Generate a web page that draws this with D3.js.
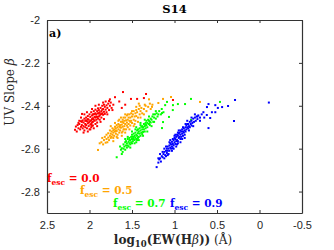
<!DOCTYPE html>
<html>
<head>
<meta charset="utf-8">
<script src="https://cdn.jsdelivr.net/npm/d3@7"></script>
<style>
  body { margin: 0; background: #fff; }
  svg { display: block; }
  .serif { font-family: "DejaVu Serif", "Liberation Serif", serif; }
  .tick text { font-family: "Liberation Sans", Arial, sans-serif; font-size: 11px; fill: #262626; }
</style>
</head>
<body>
<figure id="chart" style="margin:0"></figure>
<script>
// axis ticks
const xTicks = [2.5, 2, 1.5, 1, 0.5, 0, -0.5]
const xTickLabels = ["2.5", "2", "1.5", "1", "0.5", "0", "-0.5"]
const yTicks = [-2, -2.2, -2.4, -2.6, -2.8]
const yTickLabels = ["-2", "-2.2", "-2.4", "-2.6", "-2.8"]

// series: [log10 EW(Hb), UV slope]
const red = [
  [2.17,-2.512],[2.16,-2.497],[2.15,-2.52],[2.14,-2.49],[2.13,-2.505],[2.12,-2.485],[2.11,-2.51],[2.10,-2.472],[2.10,-2.498],[2.12,-2.47],
  [2.09,-2.49],[2.08,-2.468],[2.08,-2.505],[2.07,-2.478],[2.07,-2.495],[2.06,-2.46],[2.06,-2.515],[2.05,-2.485],[2.05,-2.47],[2.09,-2.475],
  [2.04,-2.455],[2.04,-2.49],[2.03,-2.472],[2.03,-2.505],[2.02,-2.448],[2.02,-2.482],[2.01,-2.465],[2.01,-2.495],[2.00,-2.44],[2.00,-2.475],
  [2.00,-2.51],[2.04,-2.468],[2.02,-2.462],[2.01,-2.478],[1.99,-2.452],[1.99,-2.488],[1.98,-2.43],[1.98,-2.468],[1.98,-2.5],[1.97,-2.445],
  [1.97,-2.478],[1.96,-2.458],[1.96,-2.492],[1.95,-2.425],[1.95,-2.465],[1.95,-2.44],[1.96,-2.475],[1.99,-2.47],[1.97,-2.462],[1.98,-2.485],
  [1.94,-2.438],[1.94,-2.47],[1.93,-2.418],[1.93,-2.455],[1.93,-2.485],[1.92,-2.44],[1.92,-2.465],[1.91,-2.425],[1.91,-2.452],[1.91,-2.478],
  [1.90,-2.435],[1.90,-2.46],[1.94,-2.452],[1.92,-2.45],[1.90,-2.412],[1.89,-2.42],[1.89,-2.45],[1.88,-2.43],[1.88,-2.465],[1.87,-2.41],
  [1.87,-2.44],[1.86,-2.425],[1.86,-2.455],[1.85,-2.4],[1.85,-2.435],[1.88,-2.445],[1.86,-2.438],[1.84,-2.415],[1.84,-2.442],[1.83,-2.428],
  [1.82,-2.405],[1.82,-2.438],[1.81,-2.418],[1.80,-2.398],[1.80,-2.43],[1.83,-2.395],[1.79,-2.41],[1.78,-2.39],[1.77,-2.42],[1.76,-2.4],
  [1.75,-2.385],[1.74,-2.41],[1.72,-2.395],[1.77,-2.378],[2.088,-2.438],[1.606,-2.336],[1.335,-2.345],[1.512,-2.368],[1.44,-2.368],[1.36,-2.364],
  [1.70,-2.36],[1.65,-2.38],[1.58,-2.395],[1.62,-2.41],[1.018,-2.373],
  [2.06,-2.44],[2.03,-2.43],[1.97,-2.415],[1.93,-2.40],[1.89,-2.395],[1.84,-2.385],[2.10,-2.455],[1.95,-2.505],[1.91,-2.495],[1.87,-2.475],
  [1.83,-2.462],[2.02,-2.52],[2.07,-2.525],[1.99,-2.51],[1.79,-2.44],[1.81,-2.38],[1.76,-2.37],[1.73,-2.42],[2.13,-2.48],[1.97,-2.493],
  [1.93,-2.435],[1.89,-2.435],[1.85,-2.418],[1.96,-2.44],[2.05,-2.50]
]
const orange = [
  [1.90,-2.606],[1.88,-2.575],[1.86,-2.57],[1.85,-2.55],[1.84,-2.58],[1.83,-2.56],[1.82,-2.545],[1.81,-2.572],[1.80,-2.555],[1.80,-2.535],
  [1.79,-2.57],[1.78,-2.548],[1.78,-2.528],[1.77,-2.56],[1.76,-2.54],[1.76,-2.515],[1.75,-2.55],[1.75,-2.53],[1.74,-2.545],[1.74,-2.52],
  [1.73,-2.535],[1.73,-2.505],[1.72,-2.55],[1.72,-2.525],[1.71,-2.51],[1.71,-2.54],[1.70,-2.52],[1.70,-2.498],[1.72,-2.515],[1.69,-2.53],
  [1.69,-2.505],[1.68,-2.49],[1.68,-2.518],[1.67,-2.5],[1.67,-2.535],[1.66,-2.485],[1.66,-2.51],[1.65,-2.525],[1.65,-2.495],[1.68,-2.545],
  [1.66,-2.47],[1.64,-2.49],[1.64,-2.515],[1.63,-2.475],[1.63,-2.502],[1.62,-2.525],[1.62,-2.488],[1.61,-2.465],[1.61,-2.498],[1.60,-2.48],
  [1.60,-2.51],[1.63,-2.455],[1.61,-2.52],[1.59,-2.47],[1.59,-2.495],[1.58,-2.455],[1.58,-2.485],[1.57,-2.51],[1.57,-2.468],[1.56,-2.478],
  [1.56,-2.445],[1.55,-2.5],[1.55,-2.465],[1.58,-2.44],[1.54,-2.455],[1.54,-2.485],[1.53,-2.44],[1.53,-2.47],[1.52,-2.492],[1.52,-2.455],
  [1.51,-2.435],[1.51,-2.47],[1.50,-2.45],[1.50,-2.48],[1.49,-2.44],[1.48,-2.465],[1.48,-2.425],[1.47,-2.45],[1.46,-2.435],[1.46,-2.47],
  [1.45,-2.42],[1.45,-2.448],[1.44,-2.43],[1.43,-2.455],[1.42,-2.415],[1.41,-2.44],[1.40,-2.425],[1.39,-2.41],[1.38,-2.435],[1.36,-2.415],
  [1.34,-2.40],[1.33,-2.425],[1.31,-2.405],[1.29,-2.39],[1.28,-2.415],[1.26,-2.395],[1.041,-2.359],[0.70,-2.382],[1.135,-2.368],[1.19,-2.387],
  [1.265,-2.405],[1.30,-2.37],[1.42,-2.39],
  [1.70,-2.48],[1.65,-2.465],[1.60,-2.455],[1.55,-2.44],[1.50,-2.425],[1.45,-2.405],[1.75,-2.495],[1.62,-2.54],[1.58,-2.525],[1.53,-2.51],
  [1.48,-2.495],[1.43,-2.475],[1.40,-2.455],[1.67,-2.55],[1.72,-2.565],[1.64,-2.50],[1.59,-2.51],[1.56,-2.492],[1.52,-2.475],[1.47,-2.485],
  [1.69,-2.515],[1.61,-2.475],[1.36,-2.44],[1.35,-2.395],[1.41,-2.40]
]
const green = [
  [1.68,-2.64],[1.62,-2.625],[1.63,-2.605],[1.62,-2.598],[1.61,-2.615],[1.60,-2.58],[1.60,-2.60],[1.59,-2.59],[1.58,-2.605],[1.58,-2.57],
  [1.57,-2.585],[1.57,-2.565],[1.56,-2.595],[1.56,-2.575],[1.55,-2.555],[1.55,-2.585],[1.54,-2.568],[1.54,-2.59],[1.53,-2.55],[1.53,-2.575],
  [1.52,-2.56],[1.52,-2.58],[1.51,-2.545],[1.51,-2.57],[1.50,-2.555],[1.50,-2.535],[1.49,-2.565],[1.49,-2.545],[1.48,-2.53],[1.48,-2.555],
  [1.50,-2.575],[1.47,-2.54],[1.47,-2.56],[1.46,-2.525],[1.46,-2.548],[1.45,-2.535],[1.45,-2.555],[1.44,-2.515],[1.44,-2.54],[1.43,-2.528],
  [1.43,-2.55],[1.46,-2.51],[1.44,-2.56],[1.42,-2.52],[1.42,-2.545],[1.41,-2.505],[1.41,-2.53],[1.40,-2.515],[1.40,-2.54],[1.39,-2.498],
  [1.39,-2.525],[1.38,-2.51],[1.38,-2.532],[1.40,-2.49],[1.37,-2.50],[1.37,-2.522],[1.36,-2.485],[1.36,-2.51],[1.35,-2.495],[1.35,-2.52],
  [1.34,-2.48],[1.34,-2.505],[1.33,-2.49],[1.33,-2.47],[1.32,-2.48],[1.32,-2.50],[1.31,-2.465],[1.30,-2.485],[1.30,-2.47],[1.29,-2.49],
  [1.28,-2.46],[1.28,-2.478],[1.27,-2.465],[1.26,-2.45],[1.25,-2.475],[1.24,-2.455],[1.23,-2.44],[1.22,-2.46],[1.21,-2.435],[1.20,-2.45],
  [1.18,-2.425],[1.16,-2.44],[1.15,-2.415],[1.13,-2.43],[0.806,-2.368],[0.465,-2.382],[1.147,-2.434],[1.11,-2.397],[1.088,-2.382],[1.018,-2.397],
  [0.96,-2.392],[0.876,-2.392],[1.02,-2.42],[1.135,-2.476],[1.147,-2.504],[1.065,-2.452],[0.806,-2.466],
  [1.55,-2.545],[1.50,-2.52],[1.45,-2.50],[1.40,-2.48],[1.35,-2.465],[1.30,-2.45],[1.58,-2.555],[1.52,-2.595],[1.47,-2.575],[1.42,-2.56],
  [1.37,-2.54],[1.32,-2.52],[1.27,-2.495],[1.25,-2.44],[1.22,-2.425],[1.48,-2.545],[1.43,-2.51],[1.38,-2.495],[1.34,-2.49],[1.29,-2.475],
  [1.53,-2.56],[1.45,-2.57],[1.24,-2.475],[1.19,-2.44],[1.64,-2.59]
]
const blue = [
  [1.21,-2.686],[1.19,-2.665],[1.18,-2.65],[1.17,-2.645],[1.16,-2.66],[1.15,-2.635],[1.14,-2.64],[1.13,-2.625],[1.12,-2.645],[1.12,-2.615],
  [1.11,-2.63],[1.10,-2.61],[1.10,-2.635],[1.09,-2.62],[1.09,-2.60],[1.08,-2.61],[1.08,-2.59],[1.07,-2.625],[1.07,-2.60],[1.06,-2.585],
  [1.06,-2.61],[1.05,-2.595],[1.05,-2.575],[1.04,-2.60],[1.04,-2.58],[1.03,-2.59],[1.03,-2.568],[1.02,-2.598],[1.02,-2.578],[1.01,-2.56],
  [1.01,-2.585],[1.00,-2.57],[1.00,-2.55],[1.02,-2.555],[0.99,-2.578],[0.99,-2.555],[0.98,-2.565],[0.98,-2.545],[0.97,-2.58],[0.97,-2.56],
  [0.96,-2.54],[0.96,-2.565],[0.95,-2.55],[0.95,-2.53],[0.96,-2.575],[0.97,-2.535],[0.94,-2.545],[0.94,-2.525],[0.93,-2.555],[0.93,-2.535],
  [0.92,-2.52],[0.92,-2.545],[0.91,-2.53],[0.91,-2.51],[0.90,-2.54],[0.90,-2.52],[0.93,-2.515],[0.89,-2.525],[0.89,-2.505],[0.88,-2.515],
  [0.88,-2.535],[0.87,-2.50],[0.87,-2.52],[0.86,-2.49],[0.86,-2.51],[0.85,-2.50],[0.85,-2.485],[0.84,-2.505],[0.84,-2.485],[0.83,-2.495],
  [0.82,-2.475],[0.82,-2.50],[0.81,-2.485],[0.80,-2.47],[0.80,-2.492],[0.79,-2.48],[0.78,-2.46],[0.77,-2.475],[0.76,-2.455],[0.75,-2.47],
  [0.74,-2.45],[0.73,-2.462],[0.72,-2.445],[0.70,-2.455],[0.68,-2.44],[0.66,-2.43],[0.73,-2.45],[0.70,-2.47],[0.618,-2.406],[0.60,-2.392],
  [0.52,-2.397],[0.44,-2.406],[0.37,-2.401],[0.49,-2.41],[0.56,-2.43],[0.52,-2.43],[0.62,-2.443],[0.58,-2.457],[0.60,-2.504],[0.288,-2.373],
  [-0.11,-2.385],[0.30,-2.471],[0.65,-2.455],
  [1.05,-2.56],[1.00,-2.54],[0.95,-2.515],[0.90,-2.50],[0.85,-2.47],[0.80,-2.455],[1.10,-2.59],[1.14,-2.615],[1.08,-2.63],[1.03,-2.61],
  [0.98,-2.59],[0.93,-2.57],[0.88,-2.55],[0.83,-2.515],[0.78,-2.495],[1.12,-2.60],[1.06,-2.57],[1.01,-2.60],[0.96,-2.525],[0.91,-2.555],
  [0.87,-2.485],[0.76,-2.44],[1.17,-2.625],[1.19,-2.645],[0.99,-2.535]
]

const series = [
  { name: "0.0", color: "#ff0000", points: red },
  { name: "0.5", color: "#ffa500", points: orange },
  { name: "0.7", color: "#00ff00", points: green },
  { name: "0.9", color: "#0000ff", points: blue }
]

const W = 334, H = 250
const margin = { top: 20, right: 32, bottom: 37, left: 47 }

const svg = d3.select("figure#chart")
  .append("svg")
  .attr("width", W)
  .attr("height", H)

const x = d3.scaleLinear().domain([2.5, -0.5]).range([margin.left, W - margin.right])
const y = d3.scaleLinear().domain([-2, -2.9]).range([margin.top, H - margin.bottom])

// points
series.forEach(s => {
  svg.append("g")
    .selectAll("rect")
    .data(s.points)
    .enter()
    .append("rect")
    .attr("x", d => x(d[0]) - 1)
    .attr("y", d => y(d[1]) - 1)
    .attr("width", 2)
    .attr("height", 2)
    .attr("fill", s.color)
})

// axes, ticks pointing inwards on all four sides
const axisColor = "#333"
const axBottom = svg.append("g")
  .attr("transform", `translate(0,${y.range()[1]})`)
  .call(d3.axisBottom(x).tickValues(xTicks).tickSize(-3).tickSizeOuter(0).tickPadding(8)
    .tickFormat((d, i) => xTickLabels[i]))
const axTop = svg.append("g")
  .attr("transform", `translate(0,${y.range()[0]})`)
  .call(d3.axisTop(x).tickValues(xTicks).tickSize(-3).tickSizeOuter(0).tickFormat(""))
const axLeft = svg.append("g")
  .attr("transform", `translate(${x.range()[0]},0)`)
  .call(d3.axisLeft(y).tickValues(yTicks).tickSize(-3).tickSizeOuter(0).tickPadding(7)
    .tickFormat((d, i) => yTickLabels[i]))
const axRight = svg.append("g")
  .attr("transform", `translate(${x.range()[1]},0)`)
  .call(d3.axisRight(y).tickValues(yTicks).tickSize(-3).tickSizeOuter(0).tickFormat(""))

;[axBottom, axTop, axLeft, axRight].forEach(g => {
  g.selectAll(".domain").attr("stroke", axisColor).attr("stroke-width", 1.2)
  g.selectAll(".tick line").attr("stroke", axisColor)
})
axBottom.selectAll(".tick text").attr("dy", "0.71em")

// title and panel tag
svg.append("text").attr("class", "serif")
  .attr("x", (x.range()[0] + x.range()[1]) / 2).attr("y", 13)
  .attr("text-anchor", "middle").style("font-size", "11.5px").style("font-weight", "bold")
  .text("S14")
svg.append("text").attr("class", "serif")
  .attr("x", 49).attr("y", 37)
  .style("font-size", "11px").style("font-weight", "bold")
  .text("a)")

// y label
const yl = svg.append("text").attr("class", "serif")
  .attr("transform", "translate(14,92) rotate(-90)")
  .attr("text-anchor", "middle").style("font-size", "12px").attr("fill", "#262626")
yl.append("tspan").text("UV Slope ")
yl.append("tspan").style("font-style", "italic").text("β")

// x label
const xl = svg.append("text").attr("class", "serif")
  .attr("x", 173).attr("y", 244)
  .attr("text-anchor", "middle").style("font-size", "12px").attr("fill", "#262626")
xl.append("tspan").style("font-weight", "bold").text("log")
xl.append("tspan").style("font-weight", "bold").style("font-size", "8.5px").attr("dy", 2.5).text("10")
xl.append("tspan").style("font-weight", "bold").attr("dy", -2.5).text("(EW(H")
xl.append("tspan").style("font-style", "italic").text("β")
xl.append("tspan").style("font-weight", "bold").text("))")
xl.append("tspan").text(" (Å)")

// f_esc labels
const labelPos = [[47, 182], [80, 194], [113, 207], [170, 207]]
series.forEach((s, i) => {
  const t = svg.append("text").attr("class", "serif")
    .attr("x", labelPos[i][0]).attr("y", labelPos[i][1])
    .attr("fill", s.color).style("font-size", "10.5px").style("font-weight", "bold")
  t.append("tspan").text("f")
  t.append("tspan").style("font-size", "7.5px").attr("dy", 2.5).text("esc")
  t.append("tspan").attr("dy", -2.5).text(" = " + s.name)
})
</script>
</body>
</html>
